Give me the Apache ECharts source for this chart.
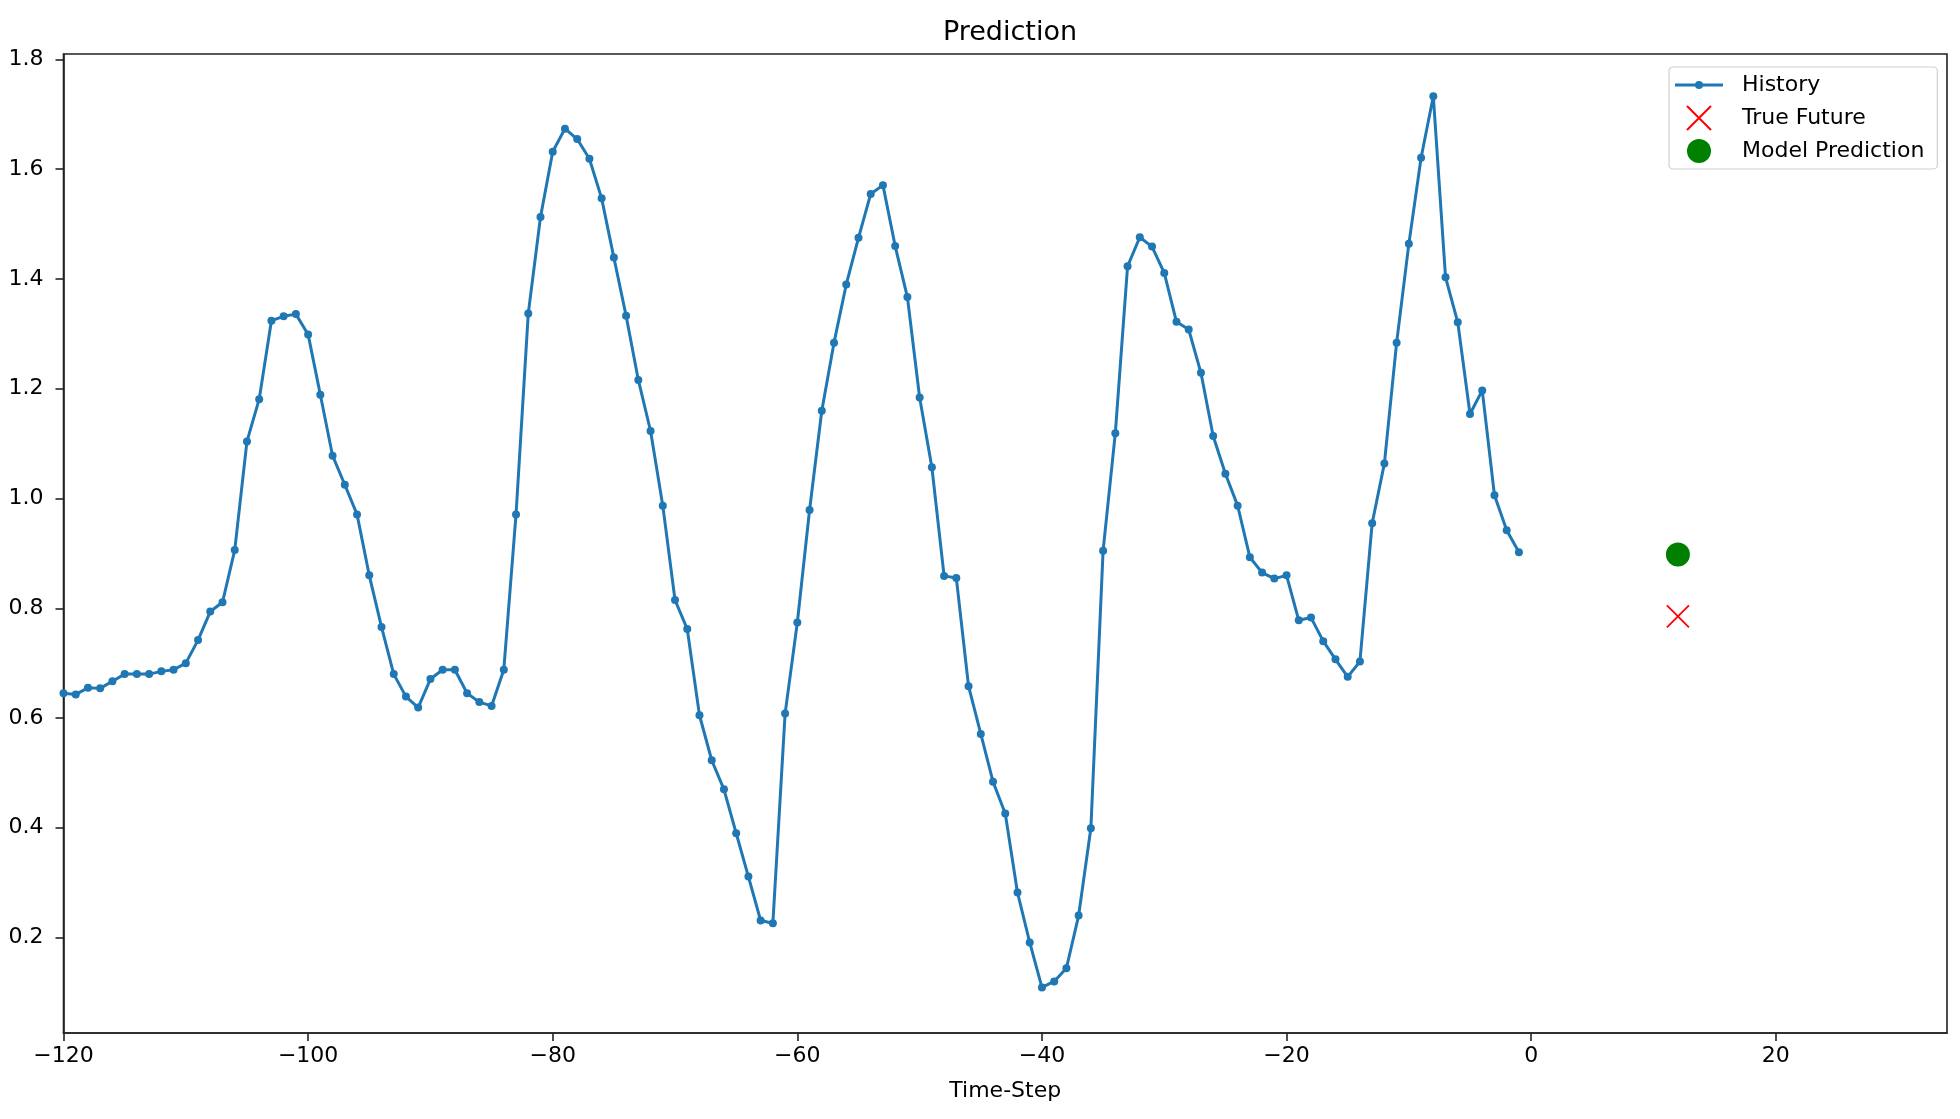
<!DOCTYPE html>
<html>
<head>
<meta charset="utf-8">
<script src="https://cdn.jsdelivr.net/npm/echarts@6/dist/echarts.min.js"></script>
<style>
html,body{margin:0;padding:0;background:#fff;}
#chart{width:1960px;height:1119px;}
</style>
</head>
<body>
<div id="chart"></div>
<script>
var timeSteps = [
  -120,-119,-118,-117,-116,-115,-114,-113,-112,-111,
  -110,-109,-108,-107,-106,-105,-104,-103,-102,-101,
  -100,-99,-98,-97,-96,-95,-94,-93,-92,-91,
  -90,-89,-88,-87,-86,-85,-84,-83,-82,-81,
  -80,-79,-78,-77,-76,-75,-74,-73,-72,-71,
  -70,-69,-68,-67,-66,-65,-64,-63,-62,-61,
  -60,-59,-58,-57,-56,-55,-54,-53,-52,-51,
  -50,-49,-48,-47,-46,-45,-44,-43,-42,-41,
  -40,-39,-38,-37,-36,-35,-34,-33,-32,-31,
  -30,-29,-28,-27,-26,-25,-24,-23,-22,-21,
  -20,-19,-18,-17,-16,-15,-14,-13,-12,-11,
  -10,-9,-8,-7,-6,-5,-4,-3,-2,-1
];
var historyValues = [
  0.645,0.643,0.655,0.654,0.667,0.680,0.680,0.680,0.685,0.688,
  0.700,0.742,0.794,0.811,0.906,1.104,1.181,1.324,1.332,1.336,
  1.299,1.189,1.078,1.025,0.971,0.860,0.766,0.680,0.639,0.619,
  0.671,0.688,0.688,0.645,0.629,0.622,0.688,0.971,1.337,1.513,
  1.632,1.674,1.655,1.619,1.547,1.439,1.333,1.216,1.123,0.987,
  0.815,0.762,0.605,0.523,0.470,0.390,0.311,0.231,0.226,0.608,
  0.774,0.979,1.160,1.284,1.390,1.475,1.555,1.571,1.460,1.367,
  1.184,1.057,0.859,0.855,0.658,0.571,0.484,0.426,0.282,0.191,
  0.109,0.120,0.144,0.240,0.399,0.905,1.119,1.423,1.476,1.459,
  1.411,1.322,1.308,1.229,1.114,1.045,0.987,0.893,0.865,0.854,
  0.860,0.778,0.783,0.740,0.707,0.675,0.703,0.955,1.064,1.284,
  1.464,1.621,1.733,1.403,1.321,1.154,1.197,1.006,0.942,0.902
];
var futureStep = [12];
var trueFuture = [0.785];
var modelPrediction = [0.898];
var xTicks = [-120,-100,-80,-60,-40,-20,0,20];
var yTicks = [0.2,0.4,0.6,0.8,1.0,1.2,1.4,1.6,1.8];

var FONT = 'DejaVu Sans';
var histData = timeSteps.map(function(t,i){return [t, historyValues[i]];});
var trueData = futureStep.map(function(t,i){return [t, trueFuture[i]];});
var predData = futureStep.map(function(t,i){return [t, modelPrediction[i]];});

var historyIcon = 'path://M0,2.5 L48,2.5 L48,5.5 L0,5.5 Z M28,4 A4,4 0 1,1 20,4 A4,4 0 1,1 28,4 Z';

var chart = echarts.init(document.getElementById('chart'), null, {renderer:'canvas'});
chart.setOption({
  animation:false,
  backgroundColor:'#ffffff',
  title:{
    text:'Prediction', left:1005, textAlign:'center', top:14,
    textStyle:{fontFamily:FONT, fontSize:27, fontWeight:'normal', color:'#000'}
  },
  grid:{left:63.5, right:13, top:54, bottom:86, show:true, borderColor:'#222', borderWidth:1.6, containLabel:false},
  legend:{
    orient:'vertical', left:1669, top:67,
    backgroundColor:'#fff', borderColor:'#d0d0d0', borderWidth:1.2, borderRadius:4,
    padding:[6,13,6,6], itemWidth:48, itemHeight:24, itemGap:8,
    textStyle:{fontFamily:FONT, fontSize:22, color:'#000', lineHeight:24, padding:[0,0,0,14]},
    data:[
      {name:'History', icon:historyIcon},
      {name:'True Future'},
      {name:'Model Prediction'}
    ]
  },
  xAxis:{
    type:'value', min:-120, max:34, interval:20,
    name:'Time-Step', nameLocation:'middle', nameGap:47,
    nameTextStyle:{fontFamily:FONT, fontSize:22, color:'#000'},
    splitLine:{show:false},
    axisLine:{show:true, onZero:false, lineStyle:{color:'#222', width:1.6}},
    axisTick:{show:true, length:8, lineStyle:{color:'#222', width:1.6}, customValues:xTicks},
    axisLabel:{fontFamily:FONT, fontSize:22, color:'#000', margin:12, customValues:xTicks,
      formatter:function(v){return String(v).replace('-', '\u2212');}}
  },
  yAxis:{
    type:'value', min:0.026, max:1.81,
    splitLine:{show:false},
    axisLine:{show:true, onZero:false, lineStyle:{color:'#222', width:1.6}},
    axisTick:{show:true, length:8, lineStyle:{color:'#222', width:1.6}, customValues:yTicks},
    axisLabel:{fontFamily:FONT, fontSize:22, color:'#000', margin:20, customValues:yTicks,
      formatter:function(v){return v.toFixed(1);}}
  },
  series:[
    {
      name:'History', type:'line', data:histData,
      symbol:'circle', symbolSize:8, showSymbol:true,
      itemStyle:{color:'#1f77b4', opacity:1},
      lineStyle:{color:'#1f77b4', width:3},
      emphasis:{disabled:true}
    },
    {
      name:'True Future', type:'scatter', data:trueData,
      symbol:'path://M0,0L10,10M10,0L0,10', symbolSize:22,
      itemStyle:{color:'rgba(255,0,0,0)', borderColor:'#ff0000', borderWidth:1.8, opacity:1},
      emphasis:{disabled:true}
    },
    {
      name:'Model Prediction', type:'scatter', data:predData,
      symbol:'circle', symbolSize:24,
      itemStyle:{color:'#008000', opacity:1},
      emphasis:{disabled:true}
    }
  ]
});
</script>
</body>
</html>
